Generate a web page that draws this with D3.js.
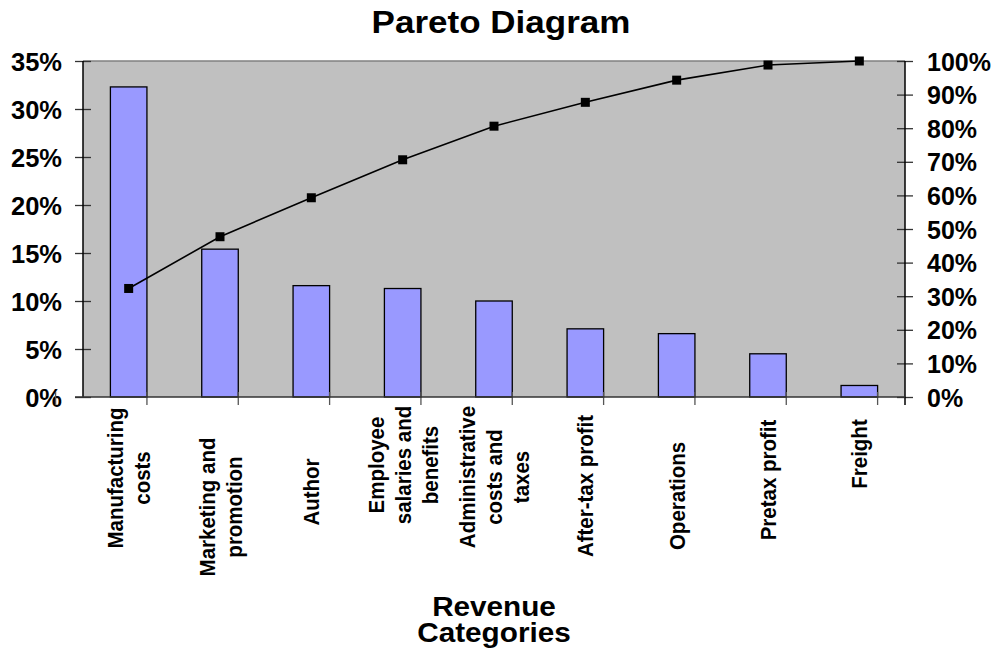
<!DOCTYPE html>
<html>
<head>
<meta charset="utf-8">
<script src="https://cdn.jsdelivr.net/npm/d3@7"></script>
<style>
  body { margin: 0; background: #fff; }
  text { font-family: "Liberation Sans", Arial, sans-serif; font-weight: bold; fill: #000; }
</style>
</head>
<body>
<div id="chart"></div>
<script>
// data
var categories = ["Manufacturing costs", "Marketing and promotion", "Author",
  "Employee salaries and benefits", "Administrative costs and taxes",
  "After-tax profit", "Operations", "Pretax profit", "Freight"];
var categoryLines = [["Manufacturing", "costs"], ["Marketing and", "promotion"], ["Author"],
  ["Employee", "salaries and", "benefits"], ["Administrative", "costs and", "taxes"],
  ["After-tax profit"], ["Operations"], ["Pretax profit"], ["Freight"]];
var share = [32.3, 15.4, 11.6, 11.3, 10.0, 7.1, 6.6, 4.5, 1.2];
var cumulative = [32.3, 47.7, 59.3, 70.6, 80.6, 87.7, 94.3, 98.8, 100];
var leftTicks = [0, 5, 10, 15, 20, 25, 30, 35];
var rightTicks = [0, 10, 20, 30, 40, 50, 60, 70, 80, 90, 100];

// layout
var chart = { width: 1000, height: 657, top: 61, right: 95, bottom: 260, left: 83 };
var labelShift = [-2, 27, 12, -15, -3, 6, 16, 0, -26];

var w = chart.width - chart.left - chart.right;
var h = chart.height - chart.top - chart.bottom;

var svg = d3.select("#chart")
  .append("svg")
  .attr("width", chart.width)
  .attr("height", chart.height);

var g = svg.append("g")
  .attr("transform", "translate(" + chart.left + "," + chart.top + ")");

var x = d3.scaleBand()
  .domain(categories)
  .range([0, w])
  .paddingInner(0.6)
  .paddingOuter(0.3);

var yLeft = d3.scaleLinear().domain([0, 35]).range([h, 0]);
var yRight = d3.scaleLinear().domain([0, 100]).range([h, 0]);

/* plot area */
g.append("rect")
  .attr("width", w)
  .attr("height", h)
  .style("fill", "#c0c0c0");
g.append("line")
  .attr("x1", 0).attr("x2", w)
  .style("stroke", "#808080")
  .style("stroke-width", 1.5);

/* bars */
g.selectAll(".bar")
  .data(share)
  .enter()
  .append("rect")
  .attr("class", "bar")
  .attr("x", (d, i) => x(categories[i]))
  .attr("y", (d) => yLeft(d))
  .attr("width", x.bandwidth())
  .attr("height", (d) => h - yLeft(d))
  .style("fill", "#9999ff")
  .style("stroke", "#000")
  .style("stroke-width", 1.3);

/* cumulative line */
var cx = (i) => x(categories[i]) + x.bandwidth() / 2;
g.append("path")
  .attr("d", d3.line().x((d, i) => cx(i)).y((d) => yRight(d))(cumulative))
  .style("fill", "none")
  .style("stroke", "#000")
  .style("stroke-width", 1.6);
g.selectAll(".mark")
  .data(cumulative)
  .enter()
  .append("rect")
  .attr("class", "mark")
  .attr("x", (d, i) => cx(i) - 4.5)
  .attr("y", (d) => yRight(d) - 4.5)
  .attr("width", 9)
  .attr("height", 9)
  .style("fill", "#000");

/* left axis */
var left = g.append("g")
  .call(d3.axisLeft(yLeft).tickValues(leftTicks).tickFormat((d) => d + "%").tickSize(8).tickPadding(13));
left.select(".domain").remove();
left.selectAll(".tick line").attr("x1", 8).style("stroke", "#333").style("stroke-width", 1.3);
left.selectAll("text").style("font-size", "25.5px").attr("dy", "0.36em");
g.append("line").attr("y1", 0).attr("y2", h).style("stroke", "#000").style("stroke-width", 1.5);

/* right axis */
var right = g.append("g")
  .attr("transform", "translate(" + w + ",0)")
  .call(d3.axisRight(yRight).tickValues(rightTicks).tickFormat((d) => d + "%").tickSize(8).tickPadding(14));
right.select(".domain").remove();
right.selectAll(".tick line").attr("x1", -8).style("stroke", "#333").style("stroke-width", 1.3);
right.selectAll("text").style("font-size", "25px").attr("dy", "0.36em");
g.append("line").attr("x1", w).attr("x2", w).attr("y1", 0).attr("y2", h + 8)
  .style("stroke", "#000").style("stroke-width", 1.5);

/* bottom axis: ticks on category borders */
var step = x.step();
var borders = d3.range(categories.length + 1).map((i) => x(categories[0]) - x.paddingOuter() * step + i * step - x.paddingInner() * step / 2);
g.selectAll(".btick")
  .data(borders)
  .enter()
  .append("line")
  .attr("class", "btick")
  .attr("x1", (d) => d).attr("x2", (d) => d)
  .attr("y1", h - 5).attr("y2", h + 8)
  .style("stroke", "#555")
  .style("stroke-width", 1.3);
g.append("line").attr("x1", -8).attr("x2", w).attr("y1", h).attr("y2", h)
  .style("stroke", "#333").style("stroke-width", 1.5);

/* category labels, rotated and a little widened across the glyphs */
var labels = g.selectAll(".cat")
  .data(categoryLines)
  .enter()
  .append("g")
  .attr("class", "cat")
  .attr("transform", (d, i) => "translate(" + cx(i) + "," + (480 - chart.top + labelShift[i]) + ") rotate(-90) scale(1,1.1)");
labels.append("text")
  .style("font-size", "20.5px")
  .attr("text-anchor", "middle")
  .selectAll("tspan")
  .data((d) => d.map((t, j) => ({ t: t, j: j, n: d.length })))
  .enter()
  .append("tspan")
  .attr("x", 0)
  .attr("y", (d) => (d.j - (d.n - 1) / 2) * 24.5)
  .attr("dy", "0.36em")
  .text((d) => d.t);

/* titles */
svg.append("text")
  .attr("transform", "translate(501,33) scale(1.13,1)")
  .attr("text-anchor", "middle")
  .style("font-size", "31px")
  .text("Pareto Diagram");
svg.selectAll(".axis-title")
  .data(["Revenue", "Categories"])
  .enter()
  .append("text")
  .attr("class", "axis-title")
  .attr("transform", (d, i) => "translate(494," + (616 + i * 26) + ") scale(1.08,1)")
  .attr("text-anchor", "middle")
  .style("font-size", "27.5px")
  .text((d) => d);
</script>
</body>
</html>
